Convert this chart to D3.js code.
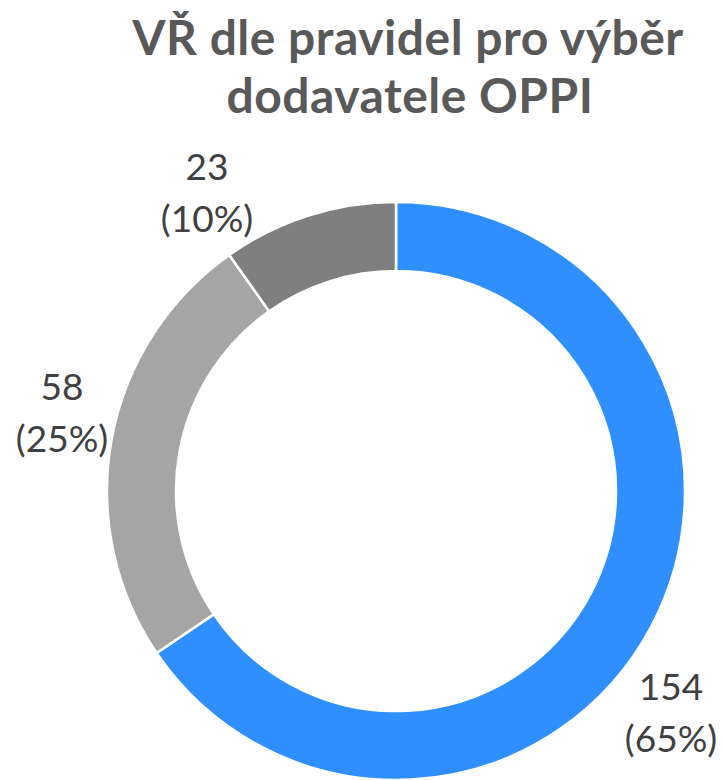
<!DOCTYPE html>
<html>
<head>
<meta charset="utf-8">
<script src="https://cdn.jsdelivr.net/npm/d3@7"></script>
<style>
  html, body { margin: 0; padding: 0; background: #fff; }
  svg { display: block; }
</style>
</head>
<body>
<svg id="chart" width="723" height="780"></svg>
<script>
// ---- data ----
const titleLines = ["VŘ dle pravidel pro výběr", "dodavatele OPPI"];
const categories = ["A", "B", "C"];
const values = [154, 58, 23];
const percentLabels = ["(65%)", "(25%)", "(10%)"];
const colors = ["#2F8FFF", "#A5A5A5", "#7F7F7F"];

// ---- layout ----
const W = 723, H = 780;
const cx = 396, cy = 491, outerR = 289, innerR = 220;
const labelPos = [[671, 700], [62, 400], [207, 180]]; // baseline of first line
const lineGap = 52;

const svg = d3.select("#chart");

// title
const title = svg.append("text")
  .attr("x", 408).attr("y", 55)
  .attr("text-anchor", "middle")
  .style("font-family", "Lato, 'Open Sans', sans-serif")
  .style("font-weight", "700")
  .style("font-size", "48px")
  .style("letter-spacing", "0.5px")
  .style("fill", "#595959");
titleLines.forEach((t, i) => {
  title.append("tspan").attr("x", i === 0 ? 408 : 410).attr("dy", i === 0 ? 0 : 58).text(t);
});

// donut
const pie = d3.pie().value(d => d.v).sort(null);
const arcs = pie(categories.map((c, i) => ({ c, v: values[i], i })));
const arc = d3.arc().innerRadius(innerR).outerRadius(outerR);

const g = svg.append("g").attr("transform", `translate(${cx},${cy})`);
g.selectAll("path").data(arcs).join("path")
  .attr("d", arc)
  .attr("fill", d => colors[d.data.i])
  .attr("stroke", "#fff")
  .attr("stroke-width", 2.5);

// labels
const lab = svg.append("g")
  .style("font-family", "Lato, 'Open Sans', sans-serif")
  .style("font-size", "37px")
  .style("fill", "#404040")
  .attr("text-anchor", "middle");
arcs.forEach((d, k) => {
  const [x, y] = labelPos[k];
  const t = lab.append("text").attr("x", x).attr("y", y);
  t.append("tspan").attr("x", x).text(values[k]);
  t.append("tspan").attr("x", x).attr("dy", lineGap).text(percentLabels[k]);
});
</script>
</body>
</html>
